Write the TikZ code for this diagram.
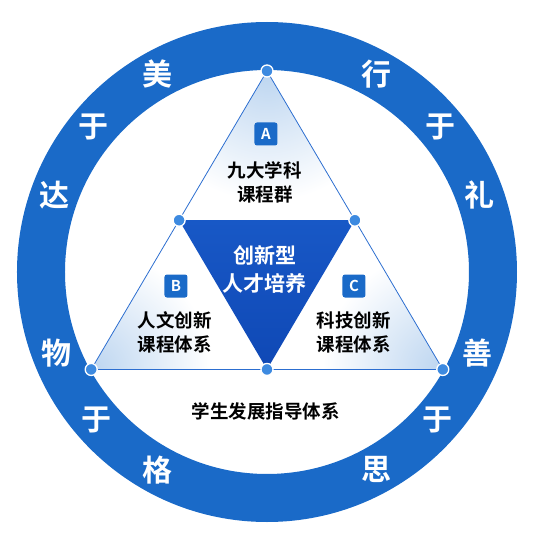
\documentclass[tikz,border=0pt]{standalone}
\usepackage{fontspec}
\usepackage{xcolor}
\usepackage{tikz}
\newfontfamily\cjk{Noto Sans CJK SC}[BoldFont={Noto Sans CJK SC Bold}]
\usetikzlibrary{shapes}
\usetikzlibrary{calc}
\definecolor{ringblue}{HTML}{1A6AC8}
\definecolor{lineblue}{HTML}{2C6ED0}
\definecolor{dotblue}{HTML}{3D8AE0}
\definecolor{paleblue}{HTML}{BCD5F0}
\tikzset{
	ring char/.style={font=\cjk\bfseries\fontsize{30}{30}\selectfont,text=white},
	label text/.style={font=\cjk\bfseries\fontsize{18.5}{24}\selectfont,align=center},
	badge/.style={rectangle,rounded corners=2.5pt,fill=ringblue,text=white,minimum size=23pt,
		inner sep=0pt,font=\cjk\bfseries\fontsize{15}{15}\selectfont},
	main dot/.style={circle,draw=white,line width=1.3pt,fill=dotblue,minimum size=12pt,inner sep=0pt}
}

\begin{document}
\begin{tikzpicture}[x=1pt,y=1pt]
	\useasboundingbox (-267,-264) rectangle (277,272);
	\fill[ringblue,even odd rule] (0,0) circle (250) (0,0) circle (202);
	\coordinate (T) at (90:201);
	\coordinate (L) at (209:201);
	\coordinate (R) at (331:201);
	\coordinate (ML) at ($(T)!0.5!(L)$);
	\coordinate (MR) at ($(T)!0.5!(R)$);
	\coordinate (MB) at ($(L)!0.5!(R)$);
	% soft fills of the three corners
	\begin{scope}
		\clip (T) -- (ML) -- (MR) -- cycle;
		\shade[inner color=paleblue,outer color=white] (T) circle (130);
	\end{scope}
	\begin{scope}
		\clip (L) -- (ML) -- (MB) -- cycle;
		\shade[inner color=paleblue,outer color=white] (L) circle (120);
	\end{scope}
	\begin{scope}
		\clip (R) -- (MR) -- (MB) -- cycle;
		\shade[inner color=paleblue,outer color=white] (R) circle (120);
	\end{scope}
	\draw[lineblue,line width=0.8pt] (T) -- (L) -- (R) -- cycle;
	\shade[top color={rgb,255:red,24;green,88;blue,198},bottom color={rgb,255:red,15;green,72;blue,181}]
		(ML) -- (MR) -- (MB) -- cycle;
	\foreach \p in {T,L,R,ML,MR,MB}
		\node [main dot] (d\p) at (\p) {};
	\node [ring char] (1) at (119:226) {美};
	\node [ring char] (2) at (140:226) {于};
	\node [ring char] (3) at (160:226) {达};
	\node [ring char] (4) at (201:226) {物};
	\node [ring char] (5) at (221:226) {于};
	\node [ring char] (6) at (241:226) {格};
	\node [ring char] (7) at (61:226) {行};
	\node [ring char] (8) at (40:226) {于};
	\node [ring char] (9) at (20:226) {礼};
	\node [ring char] (10) at (-21:226) {善};
	\node [ring char] (11) at (-41:226) {于};
	\node [ring char] (12) at (-61:226) {思};
	\node [badge] (a) at (-1,138) {A};
	\node [label text] (atext) at (-2,90) {九大学科\\课程群};
	\node [badge] (b) at (-91,-14) {B};
	\node [label text] (btext) at (-92,-60) {人文创新\\课程体系};
	\node [badge] (c) at (87,-14) {C};
	\node [label text] (ctext) at (87,-60) {科技创新\\课程体系};
	\node [label text,text=white,font=\cjk\bfseries\fontsize{21}{28}\selectfont] (core) at (-2,2) {创新型\\人才培养};
	\node [label text] (guide) at (-1,-139) {学生发展指导体系};
\end{tikzpicture}
\end{document}
